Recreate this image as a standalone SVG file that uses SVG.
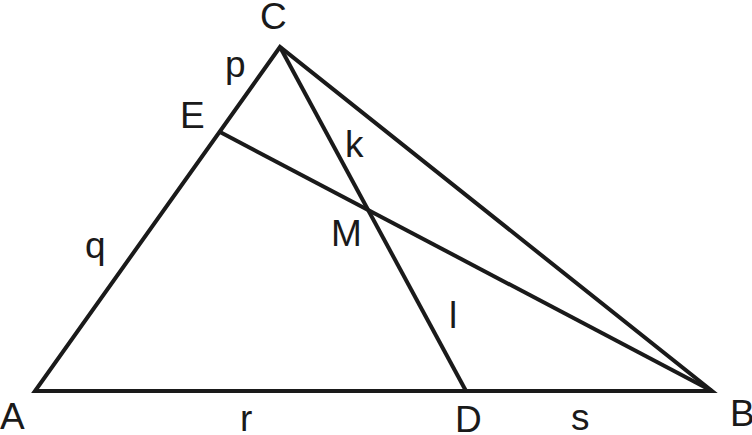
<svg xmlns="http://www.w3.org/2000/svg" width="752" height="435" viewBox="0 0 752 435">
<style>
.l{stroke:#1a1a1a;stroke-width:4;fill:none;stroke-linejoin:miter;stroke-linecap:butt}
.t{font-family:"Liberation Sans",Arial,sans-serif;font-size:37px;fill:#1a1a1a}
</style>
<rect width="752" height="435" fill="#fff"/>
<g id="connectors">
<polygon class="l" points="35,391 712,391 280,47"/>
<line class="l" x1="280" y1="47" x2="466" y2="391"/>
<line class="l" x1="220" y1="132" x2="712" y2="391"/>
</g>
<g id="labels">
<text class="t" x="0" y="429">A</text>
<text class="t" x="730" y="426">B</text>
<text class="t" x="260" y="29">C</text>
<text class="t" x="455" y="432">D</text>
<text class="t" x="180" y="128">E</text>
<text class="t" x="331" y="246">M</text>
<text class="t" x="225" y="77">p</text>
<text class="t" x="85" y="258">q</text>
<text class="t" x="345" y="157">k</text>
<text class="t" x="449" y="328">l</text>
<text class="t" x="240" y="431">r</text>
<text class="t" x="571" y="430">s</text>
</g>
</svg>
